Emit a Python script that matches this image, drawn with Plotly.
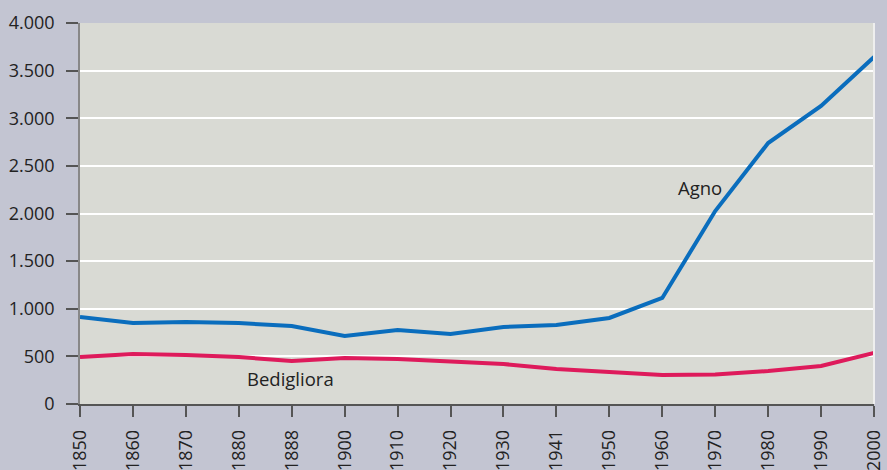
import plotly.graph_objects as go

years = ["1850", "1860", "1870", "1880", "1888", "1900", "1910", "1920",
         "1930", "1941", "1950", "1960", "1970", "1980", "1990", "2000"]
agno = [913, 850, 861, 850, 819, 714, 777, 735, 808, 829, 903, 1113, 2026, 2740, 3129, 3643]
bedigliora = [493, 525, 514, 493, 451, 483, 472, 441, 420, 367, 336, 304, 310, 346, 399, 535]
yticks = [0, 500, 1000, 1500, 2000, 2500, 3000, 3500, 4000]

font = "Open Sans, Lato, sans-serif"

fig = go.Figure()
fig.add_trace(go.Scatter(x=years, y=agno, mode="lines", name="Agno",
                         line=dict(color="#0a6dbd", width=4)))
fig.add_trace(go.Scatter(x=years, y=bedigliora, mode="lines", name="Bedigliora",
                         line=dict(color="#de1a5b", width=4)))

fig.add_annotation(x=11.71, y=2268, text="Agno", showarrow=False,
                   xanchor="center", yanchor="middle", font=dict(size=18.5, color="#222"))
fig.add_annotation(x=3.97, y=273, text="Bedigliora", showarrow=False,
                   xanchor="center", yanchor="middle", font=dict(size=18.5, color="#222"))

fig.add_shape(type="line", xref="paper", yref="paper", x0=1, x1=1, y0=0, y1=1,
              line=dict(color="#eeeeee", width=2))

fig.update_layout(
    width=887, height=470,
    margin=dict(l=80, r=13, t=23, b=66),
    paper_bgcolor="#c3c5d2",
    plot_bgcolor="#d9dad4",
    showlegend=False,
    separators=",.",
    font=dict(family=font, size=18, color="#222"),
)
fig.update_xaxes(type="category", range=[0, 15], showgrid=False, automargin=False,
                 ticks="outside", ticklen=11, tickcolor="#555", tickwidth=1.5,
                 tickangle=-90, showline=True, linecolor="#555", linewidth=1.5,
                 ticklabelstandoff=6, tickfont=dict(size=18))
fig.update_yaxes(range=[0, 4000], tickvals=yticks, tickformat=",d", automargin=False,
                 gridcolor="#ffffff", gridwidth=1.5,
                 ticks="outside", ticklen=12, tickcolor="#555", tickwidth=1.5,
                 showline=True, linecolor="#888", linewidth=1.5, zeroline=False,
                 ticklabelstandoff=8, tickfont=dict(size=18))

fig.write_html("out.html", config={"displayModeBar": False},
               post_script="document.body.style.margin='0';document.body.style.overflow='hidden';")
